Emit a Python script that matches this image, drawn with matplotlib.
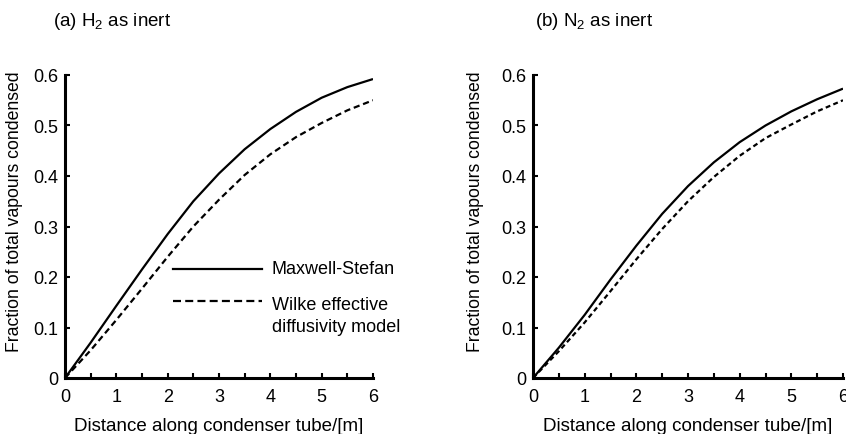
import matplotlib
matplotlib.use("Agg")
import matplotlib.pyplot as plt
from matplotlib.ticker import MultipleLocator, FuncFormatter

plt.rcParams["font.family"] = ["Liberation Sans", "DejaVu Sans"]
plt.rcParams["mathtext.fontset"] = "custom"
plt.rcParams["mathtext.rm"] = "Liberation Sans"
plt.rcParams["mathtext.default"] = "rm"

# distance along the condenser tube [m]
distance = [0, 0.5, 1, 1.5, 2, 2.5, 3, 3.5, 4, 4.5, 5, 5.5, 6]

# (a) H2 as inert
h2_maxwell = [0, 0.07, 0.143, 0.215, 0.285, 0.35, 0.405, 0.453, 0.493, 0.527, 0.555, 0.576, 0.592]
h2_wilke = [0, 0.055, 0.115, 0.177, 0.24, 0.30, 0.353, 0.402, 0.443, 0.477, 0.505, 0.53, 0.55]

# (b) N2 as inert
n2_maxwell = [0, 0.06, 0.125, 0.195, 0.262, 0.325, 0.38, 0.427, 0.467, 0.50, 0.528, 0.552, 0.573]
n2_wilke = [0, 0.053, 0.11, 0.172, 0.235, 0.295, 0.35, 0.398, 0.44, 0.475, 0.502, 0.528, 0.55]

panel_titles = ["(a) H$_2$ as inert", "(b) N$_2$ as inert"]
legend_labels = ["Maxwell-Stefan", "Wilke effective\ndiffusivity model"]

W, H = 846, 435
fig = plt.figure(figsize=(W / 100, H / 100), dpi=100)

# axes boxes in pixels: left, right, bottom(y from top), top(y from top)
boxes = [(65, 373, 379, 76), (533, 843, 379, 76)]
series = [(h2_maxwell, h2_wilke), (n2_maxwell, n2_wilke)]
title_x = [53, 535]
ylabel_x = [15, 475]

fmt = FuncFormatter(lambda v, p: "0" if abs(v) < 1e-9 else f"{v:.1f}")

for i, (l, r, b, t) in enumerate(boxes):
    ax = fig.add_axes([l / W, 1 - b / H, (r - l) / W, (b - t) / H])
    ms, wk = series[i]
    dash = (0, (2.8, 1.7)) if i == 0 else (0, (2.2, 1.5))
    ax.plot(distance, ms, color="black", lw=1.6, solid_capstyle="butt")
    ax.plot(distance, wk, color="black", lw=1.6, linestyle=dash)

    ax.set_xlim(0, 6)
    ax.set_ylim(0, 0.6)
    ax.xaxis.set_major_locator(MultipleLocator(1))
    ax.xaxis.set_minor_locator(MultipleLocator(0.5))
    ax.yaxis.set_major_locator(MultipleLocator(0.1))
    ax.yaxis.set_major_formatter(fmt)
    ax.tick_params(which="both", direction="in", length=3.8, width=1.5,
                   labelsize=13)
    ax.tick_params(axis="x", pad=7)
    ax.tick_params(axis="y", pad=5)
    for s in ["top", "right"]:
        ax.spines[s].set_visible(False)
    for s in ["left", "bottom"]:
        ax.spines[s].set_linewidth(2.2)
    ax.set_xlabel("Distance along condenser tube/[m]", fontsize=13.5, labelpad=9)
    fig.text(ylabel_x[i] / W, 1 - 212 / H, "Fraction of total vapours condensed",
             rotation=90, ha="center", va="center", fontsize=12.7)
    fig.text(title_x[i] / W, 1 - 22 / H, panel_titles[i], ha="left",
             va="center", fontsize=13.5)

    if i == 0:
        # hand-placed key, as in the original figure
        ax.plot([0.35, 0.64], [0.36, 0.36], transform=ax.transAxes,
                color="black", lw=1.6)
        ax.plot([0.35, 0.64], [0.254, 0.254], transform=ax.transAxes,
                color="black", lw=1.6, linestyle=(0, (3.6, 1.9)))
        ax.text(0.672, 0.36, legend_labels[0], transform=ax.transAxes,
                ha="left", va="center", fontsize=13)
        ax.text(0.672, 0.27, legend_labels[1], transform=ax.transAxes,
                ha="left", va="top", fontsize=13, linespacing=1.35)

fig.savefig("out.png", dpi=100)
